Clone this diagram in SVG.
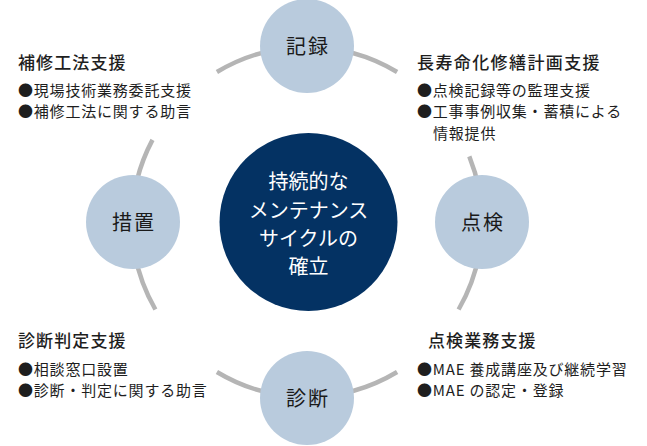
<svg xmlns="http://www.w3.org/2000/svg" width="647" height="446" viewBox="0 0 647 446">
<style>
text{font-family:"Noto Sans CJK JP","Noto Sans",sans-serif}
.arc{fill:none;stroke:#b5b5b5;stroke-width:4.5}
.node{fill:#b9cbdd}
.core{fill:#043263}
.n{font-size:20px;fill:#1a1a1a;text-anchor:middle;letter-spacing:2px}
.c{font-size:20px;fill:#ffffff;text-anchor:middle}
.t{font-size:17px;font-weight:500;fill:#1e1e1e;letter-spacing:1.1px}
.b{font-size:15px;fill:#1e1e1e;letter-spacing:0.8px}
</style>
<rect width="647" height="446" fill="#ffffff"/>
<g id="connectors">
<path class="arc" d="M307,47 A175,175 0 0 1 397.1,72"/>
<path class="arc" d="M469.3,156.4 A175,175 0 0 1 482,222"/>
<path class="arc" d="M482,222 A175,175 0 0 1 458.6,309.5"/>
<path class="arc" d="M397.1,372 A175,175 0 0 1 307,397"/>
<path class="arc" d="M307,397 A175,175 0 0 1 216.9,372"/>
<path class="arc" d="M155.4,309.5 A175,175 0 0 1 132,222"/>
<path class="arc" d="M132,222 A175,175 0 0 1 152.5,139.9"/>
<path class="arc" d="M216.9,72 A175,175 0 0 1 307,47"/>
</g>
<g id="core">
<circle class="core" cx="308.5" cy="222" r="89"/>
<text class="c" x="308.5" y="189">持続的な</text>
<text class="c" x="308.5" y="217.5">メンテナンス</text>
<text class="c" x="308.5" y="245.5">サイクルの</text>
<text class="c" x="308.5" y="273.5">確立</text>
</g>
<g id="node-kiroku">
<circle class="node" cx="307" cy="46" r="47"/>
<text class="n" x="308" y="53.5">記録</text>
</g>
<g id="node-tenken">
<circle class="node" cx="482" cy="222" r="47"/>
<text class="n" x="483" y="229.5">点検</text>
</g>
<g id="node-shindan">
<circle class="node" cx="307" cy="398" r="47"/>
<text class="n" x="308" y="405.5">診断</text>
</g>
<g id="node-sochi">
<circle class="node" cx="133" cy="222" r="47"/>
<text class="n" x="134" y="229.5">措置</text>
</g>
<g id="text-hoshu">
<text class="t" x="18" y="68.5">補修工法支援</text>
<text class="b" x="18" y="95.5">●現場技術業務委託支援</text>
<text class="b" x="18" y="116.5">●補修工法に関する助言</text>
</g>
<g id="text-choju">
<text class="t" x="417" y="68.5" style="letter-spacing:1.4px">長寿命化修繕計画支援</text>
<text class="b" x="417" y="95.5">●点検記録等の監理支援</text>
<text class="b" x="417" y="117">●工事事例収集・蓄積による</text>
<text class="b" x="433" y="138.5">情報提供</text>
</g>
<g id="text-shindan">
<text class="t" x="18" y="346.5">診断判定支援</text>
<text class="b" x="18" y="374.5">●相談窓口設置</text>
<text class="b" x="18" y="396">●診断・判定に関する助言</text>
</g>
<g id="text-tenken">
<text class="t" x="428" y="346.5">点検業務支援</text>
<text class="b" x="417" y="374.5">●MAE 養成講座及び継続学習</text>
<text class="b" x="417" y="396">●MAE の認定・登録</text>
</g>
</svg>
